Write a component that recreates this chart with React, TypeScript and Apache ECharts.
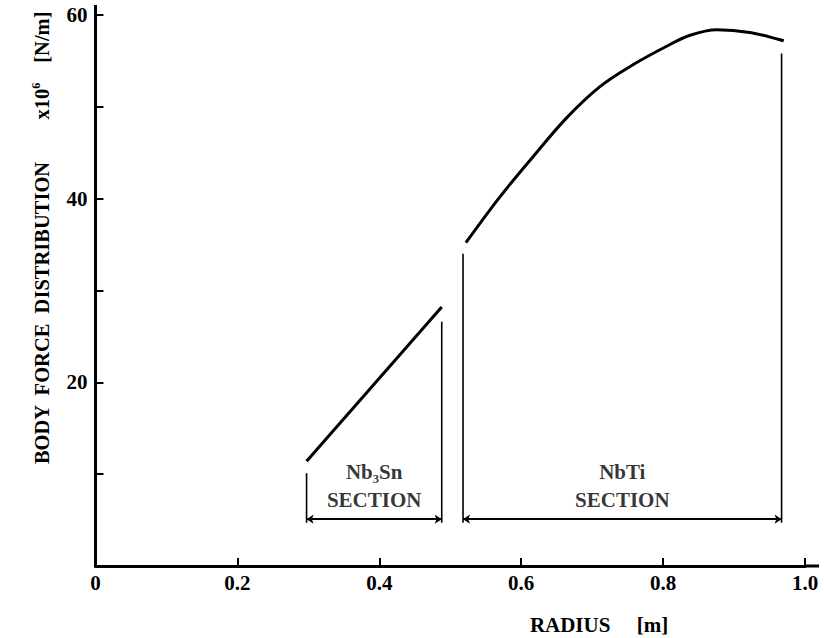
import React, { useEffect, useRef } from "react";
import * as echarts from "echarts";

// Axis ticks / labels
const xMin = 0;
const xMax = 1.0;
const xInterval = 0.2;
const yMin = 0;
const yMax = 60;
const yInterval = 10;
const yLabelValues = [20, 40, 60];

// Nb3Sn section body force (straight line)
const nb3snRadius = [0.2975, 0.488];
const nb3snForce = [11.4, 28.2];

// NbTi section body force (curve)
const nbtiRadius = [0.522, 0.57, 0.617, 0.664, 0.711, 0.758, 0.805, 0.838, 0.876, 0.922, 0.97];
const nbtiForce = [35.2, 40.2, 44.6, 48.8, 52.2, 54.6, 56.6, 57.8, 58.4, 58.1, 57.2];

// Section boundaries
const sectionNames = ["Nb₃Sn", "NbTi"];
const sectionStart = [0.2975, 0.518];
const sectionEnd = [0.488, 0.967];
const sectionStartTop = [10.1, 34.0];
const sectionEndTop = [26.6, 55.8];
const sectionBase = 4.7;
const dimensionLevel = 5.1;
const sectionLabelLevel = 8.7;

const SERIF = "'Liberation Serif', 'Times New Roman', serif";

export default function App() {
  const ref = useRef<HTMLDivElement>(null);

  useEffect(() => {
    if (!ref.current) return;
    const chart = echarts.init(ref.current, null, { renderer: "svg" });

    const gridLeft = 95.5;
    const gridRight = 19;
    const gridTop = 15;
    const gridBottom = 72;
    const W = 824;
    const H = 638;

    const verticalSeries: any[] = [];
    sectionNames.forEach((_, i) => {
      verticalSeries.push({
        type: "line",
        data: [
          [sectionStart[i], sectionBase],
          [sectionStart[i], sectionStartTop[i]],
        ],
        symbol: "none",
        lineStyle: { color: "#000", width: 1.6 },
        z: 3,
      });
      verticalSeries.push({
        type: "line",
        data: [
          [sectionEnd[i], sectionBase],
          [sectionEnd[i], sectionEndTop[i]],
        ],
        symbol: "none",
        lineStyle: { color: "#000", width: 1.6 },
        z: 3,
      });
    });

    const option: any = {
      animation: false,
      backgroundColor: "#fff",
      grid: { left: gridLeft, right: gridRight, top: gridTop, bottom: gridBottom, containLabel: false },
      xAxis: {
        type: "value",
        min: xMin,
        max: xMax,
        interval: xInterval,
        splitLine: { show: false },
        axisLine: { show: true, lineStyle: { color: "#000", width: 3 } },
        axisTick: {
          show: true,
          inside: true,
          length: 8,
          lineStyle: { color: "#000", width: 2 },
        },
        axisLabel: {
          formatter: (v: number) => (v === 0 ? "0" : v.toFixed(1)),
          color: "#000",
          fontFamily: SERIF,
          fontWeight: "bold",
          fontSize: 21,
          margin: 6,
        },
      },
      yAxis: {
        type: "value",
        min: yMin,
        max: yMax,
        interval: yInterval,
        splitLine: { show: false },
        axisLine: { show: true, lineStyle: { color: "#000", width: 3 } },
        axisTick: {
          show: true,
          inside: true,
          length: 8,
          lineStyle: { color: "#000", width: 2 },
        },
        axisLabel: {
          formatter: (v: number) => (yLabelValues.indexOf(v) >= 0 ? String(v) : ""),
          color: "#000",
          fontFamily: SERIF,
          fontWeight: "bold",
          fontSize: 21,
          margin: 8,
        },
      },
      graphic: [
        {
          type: "line",
          shape: { x1: W - gridRight - 1, y1: H - gridBottom, x2: W - 5, y2: H - gridBottom },
          style: { stroke: "#000", lineWidth: 3 },
        },
        {
          type: "line",
          shape: { x1: gridLeft, y1: gridTop + 1, x2: gridLeft, y2: 5 },
          style: { stroke: "#000", lineWidth: 3 },
        },
        {
          type: "text",
          x: 42,
          y: 238,
          rotation: Math.PI / 2,
          style: {
            text: "{a|BODY  FORCE  DISTRIBUTION}{b|x10}{s|6}{c|[N/m]}",
            align: "center",
            verticalAlign: "middle",
            fill: "#000",
            rich: {
              a: { fontFamily: SERIF, fontWeight: "bold", fontSize: 20.5, lineHeight: 24, color: "#000" },
              b: { fontFamily: SERIF, fontWeight: "bold", fontSize: 20.5, lineHeight: 24, color: "#000", padding: [0, 0, 0, 42] },
              s: { fontFamily: SERIF, fontWeight: "bold", fontSize: 12, lineHeight: 24, color: "#000", verticalAlign: "top" },
              c: { fontFamily: SERIF, fontWeight: "bold", fontSize: 20.5, lineHeight: 24, color: "#000", padding: [0, 0, 0, 20] },
            },
          },
        },
        {
          type: "text",
          x: 599,
          y: 625,
          style: {
            text: "RADIUS     [m]",
            align: "center",
            verticalAlign: "middle",
            fill: "#000",
            font: `bold 21px ${SERIF}`,
          },
        },
      ],
      series: [
        {
          type: "line",
          data: nb3snRadius.map((x, i) => [x, nb3snForce[i]]),
          symbol: "none",
          lineStyle: { color: "#000", width: 3 },
          z: 4,
        },
        {
          type: "line",
          data: nbtiRadius.map((x, i) => [x, nbtiForce[i]]),
          symbol: "none",
          smooth: 0.35,
          lineStyle: { color: "#000", width: 3 },
          z: 4,
        },
        ...verticalSeries,
        {
          type: "lines",
          coordinateSystem: "cartesian2d",
          data: sectionNames.map((_, i) => ({
            coords: [
              [sectionStart[i], dimensionLevel],
              [sectionEnd[i], dimensionLevel],
            ],
          })),
          symbol: ["arrow", "arrow"],
          symbolSize: 7,
          lineStyle: { color: "#000", width: 2, opacity: 1 },
          itemStyle: { color: "#000" },
          z: 3,
        },
        {
          type: "scatter",
          data: sectionNames.map((n, i) => [
            (sectionStart[i] + sectionEnd[i]) / 2,
            sectionLabelLevel,
            n,
          ]),
          symbolSize: 2,
          itemStyle: { color: "rgba(255,255,255,0)" },
          label: {
            show: true,
            position: "inside",
            formatter: (p: any) => `${p.data[2]}\nSECTION`,
            color: "#000",
            fontFamily: SERIF,
            fontWeight: "bold",
            fontSize: 21,
            lineHeight: 28,
            align: "center",
            verticalAlign: "middle",
          },
          z: 5,
        },
      ],
    };

    chart.setOption(option);
    return () => chart.dispose();
  }, []);

  return (
    <div
      ref={ref}
      style={{ position: "fixed", left: 0, top: 0, width: 824, height: 638, background: "#fff" }}
    />
  );
}
